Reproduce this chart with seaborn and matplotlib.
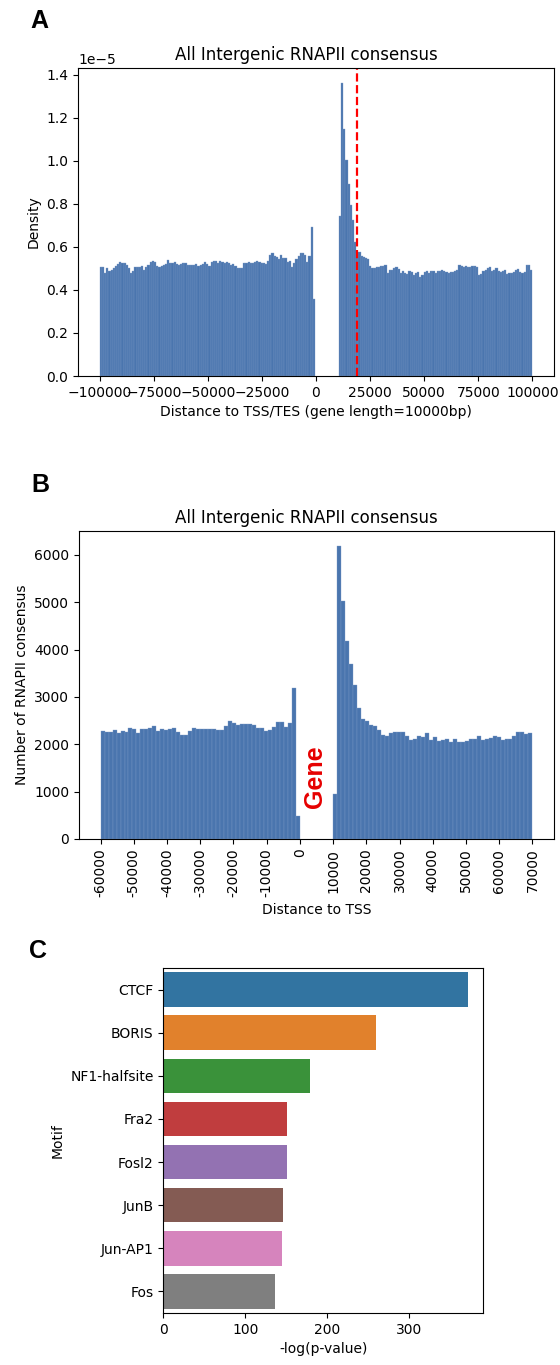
import numpy as np
import pandas as pd
import matplotlib
matplotlib.use("Agg")
import matplotlib.pyplot as plt
import seaborn as sns

# ---------------- Panel A data (density, units of 1e-5) ----------------
a_left = [0.508, 0.506, 0.480, 0.500, 0.490, 0.495, 0.500, 0.513, 0.520, 0.532,
          0.524, 0.527, 0.516, 0.500, 0.478, 0.490, 0.505, 0.508, 0.505, 0.510,
          0.493, 0.505, 0.516, 0.532, 0.533, 0.530, 0.510, 0.508, 0.510, 0.515,
          0.520, 0.538, 0.525, 0.525, 0.532, 0.520, 0.515, 0.520, 0.527, 0.525,
          0.516, 0.518, 0.515, 0.516, 0.520, 0.510, 0.518, 0.520, 0.528, 0.520,
          0.512, 0.530, 0.536, 0.535, 0.525, 0.535, 0.530, 0.525, 0.530, 0.525,
          0.515, 0.520, 0.510, 0.500, 0.500, 0.500, 0.525, 0.527, 0.532, 0.524,
          0.524, 0.529, 0.536, 0.530, 0.527, 0.524, 0.519, 0.536, 0.563, 0.574,
          0.560, 0.553, 0.544, 0.563, 0.547, 0.547, 0.532, 0.536, 0.508, 0.524,
          0.544, 0.558, 0.570, 0.570, 0.563, 0.530, 0.558, 0.691, 0.357]
a_right = [0.746, 1.364, 1.149, 1.005, 0.891, 0.795, 0.726, 0.625, 0.574, 0.578,
           0.556, 0.552, 0.547, 0.543, 0.510, 0.500, 0.500, 0.505, 0.508, 0.510,
           0.512, 0.516, 0.478, 0.493, 0.493, 0.500, 0.505, 0.496, 0.478, 0.490,
           0.480, 0.474, 0.490, 0.485, 0.470, 0.480, 0.485, 0.462, 0.470, 0.485,
           0.487, 0.478, 0.490, 0.490, 0.480, 0.490, 0.490, 0.495, 0.487, 0.485,
           0.480, 0.485, 0.483, 0.490, 0.495, 0.516, 0.510, 0.505, 0.510, 0.505,
           0.508, 0.510, 0.510, 0.505, 0.470, 0.475, 0.490, 0.495, 0.500, 0.508,
           0.490, 0.495, 0.500, 0.490, 0.485, 0.490, 0.495, 0.474, 0.478, 0.480,
           0.485, 0.495, 0.498, 0.485, 0.480, 0.485, 0.516, 0.516, 0.493]
a_range = (-100000, 100000)
a_nbins = 199
a_marker_x = 19000

# ---------------- Panel B data (counts) ----------------
b_left = [2289, 2265, 2270, 2296, 2240, 2289, 2254, 2345, 2317, 2232,
          2317, 2331, 2345, 2380, 2275, 2324, 2310, 2331, 2345, 2254,
          2204, 2197, 2275, 2345, 2317, 2324, 2317, 2317, 2317, 2303,
          2303, 2394, 2500, 2451, 2415, 2430, 2430, 2430, 2400, 2345,
          2335, 2289, 2303, 2359, 2479, 2479, 2375, 2451, 3190, 493]
b_right = [951, 6197, 5035, 4176, 3704, 3260, 2768, 2535, 2486, 2415,
           2380, 2296, 2204, 2169, 2240, 2260, 2260, 2250, 2183, 2099,
           2120, 2169, 2155, 2240, 2085, 2148, 2063, 2085, 2113, 2042,
           2113, 2049, 2049, 2060, 2113, 2106, 2183, 2099, 2113, 2127,
           2169, 2148, 2099, 2106, 2106, 2169, 2260, 2254, 2218, 2240]
b_left_range = (-60000, 0)
b_right_range = (10000, 70000)
b_xticks = [-60000, -50000, -40000, -30000, -20000, -10000, 0,
            10000, 20000, 30000, 40000, 50000, 60000, 70000]
b_xticklabels = ["-60000", "-50000", "-40000", "-30000", "-20000", "-10000", "0",
                 "10000", "20000", "30000", "40000", "50000", "60000", "70000"]

# ---------------- Panel C data ----------------
motifs = ["CTCF", "BORIS", "NF1-halfsite", "Fra2", "Fosl2", "JunB", "Jun-AP1", "Fos"]
neglogp = [372, 260, 178.5, 151, 150.5, 146.4, 145.2, 136.6]

BAR_COLOR = "#4a75ae"
EDGE_COLOR = "#7d9bc6"

fig = plt.figure(figsize=(5.6, 13.65), dpi=100)
W, H = 560, 1365

def add_ax(l, t, r, b):
    return fig.add_axes([l / W, 1 - b / H, (r - l) / W, (b - t) / H])

def hist_from_counts(ax, vals, edges, scale=1.0):
    edges = np.asarray(edges, dtype=float)
    df = pd.DataFrame({"pos": (edges[:-1] + edges[1:]) / 2,
                       "w": np.asarray(vals, dtype=float) * scale})
    sns.histplot(data=df, x="pos", weights="w", bins=list(edges), ax=ax,
                 color=BAR_COLOR, alpha=1, edgecolor=EDGE_COLOR, linewidth=0.25)

# ---------------- Panel A ----------------
axA = add_ax(78, 68, 554, 376)
a_edges = np.linspace(a_range[0], a_range[1], a_nbins + 1)
left_edges = a_edges[:len(a_left) + 1]
right_edges = a_edges[len(a_edges) - len(a_right) - 1:]
hist_from_counts(axA, a_left, left_edges, 1e-5)
hist_from_counts(axA, a_right, right_edges, 1e-5)
axA.axvline(a_marker_x, color="red", linestyle="--", linewidth=1.6)
axA.set_title("All Intergenic RNAPII consensus", fontsize=12, x=0.479)
axA.set_ylabel("Density", fontsize=10)
axA.set_xlabel("Distance to TSS/TES (gene length=10000bp)", fontsize=10)
axA.set_xlim(-110000, 110000)
axA.set_xticks([-100000, -75000, -50000, -25000, 0, 25000, 50000, 75000, 100000])

# ---------------- Panel B ----------------
axB = add_ax(79, 531, 554, 839)
for vals, rng in [(b_left, b_left_range), (b_right, b_right_range)]:
    edges = np.linspace(rng[0], rng[1], len(vals) + 1)
    hist_from_counts(axB, vals, edges)
axB.set_xlim(-66500, 76500)
axB.set_xticks(b_xticks)
axB.set_xticklabels(b_xticklabels, rotation=90)
axB.set_title("All Intergenic RNAPII consensus", fontsize=12, x=0.479)
axB.set_ylabel("Number of RNAPII consensus", fontsize=10)
axB.set_xlabel("Distance to TSS", fontsize=10)
axB.text(4400, 1320, "Gene", rotation=90, ha="center", va="center",
         color="#e60000", fontsize=18, fontweight="bold",
         family=["Liberation Sans", "DejaVu Sans"])

# ---------------- Panel C ----------------
axC = add_ax(163.3, 968, 483.3, 1313)
dfC = pd.DataFrame({"Motif": motifs, "-log(p-value)": neglogp})
sns.barplot(data=dfC, y="Motif", x="-log(p-value)", hue="Motif",
            palette="tab10", legend=False, ax=axC, orient="h")
axC.set_xticks([0, 100, 200, 300])
axC.set_xlabel("-log(p-value)", fontsize=10)
axC.set_ylabel("Motif", fontsize=10)

# Panel letters
for letter, x, y in [("A", 30, 28), ("B", 31, 492), ("C", 29, 958)]:
    fig.text(x / W, 1 - y / H, letter, fontsize=18, fontweight="bold",
             family=["Liberation Sans", "DejaVu Sans"], ha="left", va="baseline")

fig.savefig("out.png", dpi=100)
